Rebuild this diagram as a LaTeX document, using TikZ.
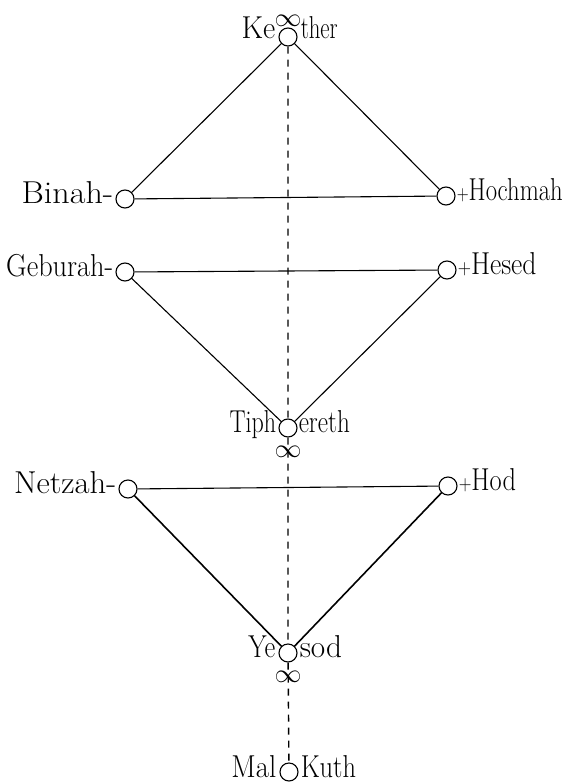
\RequirePackage{fix-cm}
\documentclass[tikz,border=0pt]{standalone}
\usepackage{graphicx}
\newcommand{\sefname}[2][1.1]{\scalebox{#1}[1.32]{#2}}
\newcommand{\smallplus}{{\fontsize{16}{18}\selectfont+}}
\tikzset{
  sefira/.style={circle, draw, minimum size=18pt, inner sep=0pt, line width=1.1pt},
  namelabel/.style={font=\fontsize{24}{28}\selectfont, inner sep=0pt},
  infinity/.style={font=\fontsize{20}{24}\selectfont, inner sep=0pt}
}
\begin{document}
\begin{tikzpicture}[x=1pt,y=1pt]
            \useasboundingbox (0,0) rectangle (568,-784);
            % the ten sefirot
            \node[sefira] (kether) at (288,-37) {};
            \node[sefira] (binah) at (125,-199) {};
            \node[sefira] (hochmah) at (446,-196) {};
            \node[sefira] (geburah) at (125,-272) {};
            \node[sefira] (hesed) at (447,-270) {};
            \node[sefira] (tiphereth) at (288,-428) {};
            \node[sefira] (netzah) at (128,-489) {};
            \node[sefira] (hod) at (448,-486) {};
            \node[sefira] (yesod) at (288,-653) {};
            \node[sefira] (malkuth) at (289,-772) {};
            % names
            \node[namelabel, anchor=base east] (ke) at ([xshift=-3pt,yshift=-2pt]kether.west) {\sefname[1.25]{Ke}};
            \node[namelabel, anchor=base west] (ther) at ([xshift=3pt,yshift=-2pt]kether.east) {\sefname[0.95]{ther}};
            \node[infinity, anchor=south] (kinf) at ([yshift=1pt]kether.north) {\sefname[1.35]{$\infty$}};
            \node[namelabel, anchor=base east] (binahname) at ([xshift=-2pt,yshift=-4pt]binah.west) {\sefname[1.42]{Binah-}};
            \node[namelabel, anchor=base west] (hochmahname) at ([xshift=1pt,yshift=-4pt]hochmah.east) {\sefname[1.03]{\smallplus Hochmah}};
            \node[namelabel, anchor=base east] (geburahname) at ([xshift=-2pt,yshift=-4pt]geburah.west) {\sefname[1.18]{Geburah-}};
            \node[namelabel, anchor=base west] (hesedname) at ([xshift=1pt,yshift=-4pt]hesed.east) {\sefname[1.15]{\smallplus Hesed}};
            \node[namelabel, anchor=base east] (tiph) at ([xshift=-2pt,yshift=-4pt]tiphereth.west) {\sefname[1.0]{Tiph}};
            \node[namelabel, anchor=base west] (ereth) at ([xshift=1pt,yshift=-4pt]tiphereth.east) {\sefname[1.05]{ereth}};
            \node[infinity, anchor=north] (tinf) at ([yshift=-8pt]tiphereth.south) {\sefname[1.35]{$\infty$}};
            \node[namelabel, anchor=base east] (netzahname) at ([xshift=-2pt,yshift=-4pt]netzah.west) {\sefname[1.36]{Netzah-}};
            \node[namelabel, anchor=base west] (hodname) at ([xshift=1pt,yshift=-4pt]hod.east) {\sefname[1.1]{\smallplus Hod}};
            \node[namelabel, anchor=base east] (ye) at ([xshift=-3pt,yshift=-4pt]yesod.west) {\sefname[1.1]{Ye}};
            \node[namelabel, anchor=base west] (sod) at ([xshift=2pt,yshift=-4pt]yesod.east) {\sefname[1.3]{sod}};
            \node[infinity, anchor=north] (yinf) at ([yshift=-8pt]yesod.south) {\sefname[1.35]{$\infty$}};
            \node[namelabel, anchor=base east] (mal) at ([xshift=-3pt,yshift=-5pt]malkuth.west) {\sefname[1.2]{Mal}};
            \node[namelabel, anchor=base west] (kuth) at ([xshift=2pt,yshift=-5pt]malkuth.east) {\sefname[1.1]{Kuth}};
            % paths
            \draw[line width=1.1pt] (kether) -- (binah);
            \draw[line width=1.1pt] (kether) -- (hochmah);
            \draw[line width=1.1pt] (binah) -- (hochmah);
            \draw[line width=1.1pt] (geburah) -- (hesed);
            \draw[line width=1.1pt] (geburah) -- (tiphereth);
            \draw[line width=1.1pt] (hesed) -- (tiphereth);
            \draw[line width=1.1pt] (netzah) -- (hod);
            \draw[line width=1.6pt] (netzah) -- (yesod);
            \draw[line width=1.6pt] (hod) -- (yesod);
            \draw[
                line width = 1.4pt,
                dash pattern = on 7pt off 6pt
            ]
            (kether) -- (tiphereth) (tiphereth) -- (yesod) (yesod) -- (malkuth);
        \end{tikzpicture}
\end{document}
